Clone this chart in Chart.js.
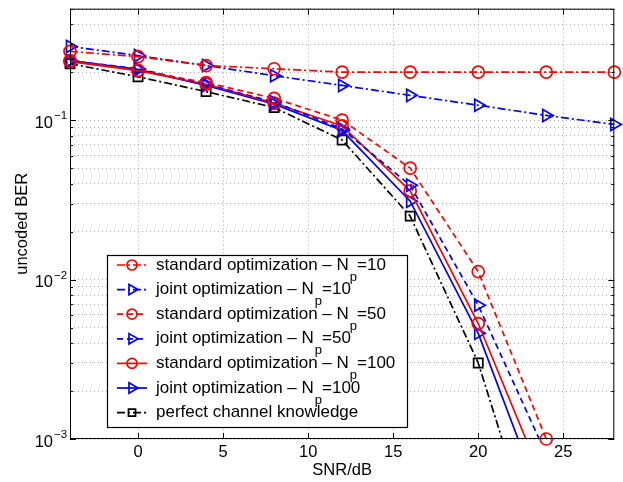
<!DOCTYPE html>
<html>
<head>
<meta charset="utf-8">
<script src="https://cdn.jsdelivr.net/npm/chart.js@4.4.0/dist/chart.umd.min.js"></script>
<style>
  html, body { margin: 0; padding: 0; background: #fff; }
</style>
</head>
<body>
<canvas id="ber" width="623" height="482"></canvas>
<script>
const FONT = '"Liberation Sans", Arial, Helvetica, sans-serif';

// SNR in dB
const snr = [-4, 0, 4, 8, 12, 16, 20, 24, 28];

// uncoded BER per curve
const stdNp10 = [0.27, 0.25, 0.22, 0.21, 0.2, 0.2, 0.2, 0.2, 0.2];
const jointNp10 = [0.29, 0.254, 0.22, 0.19, 0.165, 0.143, 0.124, 0.107, 0.094];
const stdNp50 = [0.236, 0.205, 0.172, 0.137, 0.1, 0.05, 0.0112, 0.001];
const jointNp50 = [0.236, 0.21, 0.168, 0.13, 0.088, 0.039, 0.0069, 0.0008];
const stdNp100 = [0.233, 0.204, 0.168, 0.128, 0.092, 0.036, 0.0053, 0.00049];
const jointNp100 = [0.236, 0.208, 0.165, 0.126, 0.086, 0.031, 0.0046, 0.00034];
const perfect = [0.226, 0.187, 0.151, 0.12, 0.075, 0.025, 0.003, 0.00013];

const xTicks = [0, 5, 10, 15, 20, 25];
const yMajor = [0.001, 0.01, 0.1];
const yLabels = ['\u22123', '\u22122', '\u22121'];

const legendText = [
    ['standard optimization \u2013 N', 'p', '=10'],
    ['joint optimization \u2013 N', 'p', '=10'],
    ['standard optimization \u2013 N', 'p', '=50'],
    ['joint optimization \u2013 N', 'p', '=50'],
    ['standard optimization \u2013 N', 'p', '=100'],
    ['joint optimization \u2013 N', 'p', '=100'],
    ['perfect channel knowledge', '', '']
];

// grid values for the log axis
const yGrid = [];
yMajor.forEach(d => {
    for (let k = 1; k <= 9; k++) {
        const v = +(k * d).toPrecision(3);
        if (v <= 0.5) yGrid.push(v);
    }
});

const dashDot = [8, 3, 2, 3];
const dashed = [6, 4];
const freeClip = { left: 12, top: 12, right: 12, bottom: 12 };
const lowClip = { left: 12, top: 12, right: 12, bottom: 0 };

function series(values, color, dash, style, radius, clip) {
    return {
        data: values.map((v, i) => ({ x: snr[i], y: v })),
        borderColor: color,
        borderWidth: 1.7,
        borderDash: dash,
        pointStyle: style,
        pointRotation: style === 'triangle' ? 90 : 0,
        pointRadius: radius,
        pointBorderColor: color,
        pointBorderWidth: 1.7,
        pointBackgroundColor: 'rgba(0,0,0,0)',
        clip: clip
    };
}

function marker(ctx, style, x, y, r) {
    ctx.beginPath();
    if (style === 'circle') {
        ctx.arc(x, y, r, 0, Math.PI * 2);
    } else if (style === 'triangle') {
        const a = Math.PI / 2;
        for (let k = 0; k < 3; k++) {
            const t = a + k * 2 * Math.PI / 3;
            const px = x + Math.sin(t) * r, py = y - Math.cos(t) * r;
            k === 0 ? ctx.moveTo(px, py) : ctx.lineTo(px, py);
        }
        ctx.closePath();
    } else {
        const s = r * Math.SQRT1_2;
        ctx.rect(x - s, y - s, 2 * s, 2 * s);
    }
    ctx.stroke();
}

const decorate = {
    id: 'decorate',
    afterDraw(chart) {
        const ctx = chart.ctx;
        const a = chart.chartArea;
        const xs = chart.scales.x, ys = chart.scales.y;
        ctx.save();
        // frame
        ctx.strokeStyle = '#000';
        ctx.lineWidth = 1;
        ctx.setLineDash([]);
        ctx.strokeRect(a.left + 0.5, a.top + 0.5, a.right - a.left - 1, a.bottom - a.top - 1);
        // inward tick marks
        ctx.beginPath();
        xTicks.forEach(v => {
            const px = Math.round(xs.getPixelForValue(v)) + 0.5;
            ctx.moveTo(px, a.bottom); ctx.lineTo(px, a.bottom - 6);
            ctx.moveTo(px, a.top); ctx.lineTo(px, a.top + 6);
        });
        yGrid.forEach(v => {
            const py = Math.round(ys.getPixelForValue(v)) + 0.5;
            const len = yMajor.includes(v) ? 6 : 3;
            ctx.moveTo(a.left, py); ctx.lineTo(a.left + len, py);
            ctx.moveTo(a.right, py); ctx.lineTo(a.right - len, py);
        });
        ctx.stroke();

        // y tick labels with superscripts
        ctx.fillStyle = '#000';
        ctx.textBaseline = 'middle';
        yMajor.forEach((v, i) => {
            const py = ys.getPixelForValue(v);
            ctx.font = '16.5px ' + FONT;
            ctx.textAlign = 'right';
            ctx.fillText('10', 53, py + 3);
            ctx.font = '11.5px ' + FONT;
            ctx.textAlign = 'left';
            ctx.fillText(yLabels[i], 54, py - 4);
        });

        // axis titles
        ctx.font = '16.5px ' + FONT;
        ctx.textAlign = 'center';
        ctx.fillText('SNR/dB', (a.left + a.right) / 2, 470);
        ctx.save();
        ctx.translate(22, (a.top + a.bottom) / 2);
        ctx.rotate(-Math.PI / 2);
        ctx.fillText('uncoded BER', 0, 0);
        ctx.restore();

        // legend
        const bx = 107, by = 255, bw = 300, bh = 172;
        ctx.fillStyle = '#fff';
        ctx.fillRect(bx, by, bw, bh);
        ctx.strokeStyle = '#000';
        ctx.lineWidth = 1.2;
        ctx.strokeRect(bx + 0.5, by + 0.5, bw, bh);
        chart.data.datasets.forEach((ds, i) => {
            const cy = by + 10 + i * 24.6;
            ctx.strokeStyle = ds.borderColor;
            ctx.lineWidth = 1.7;
            ctx.setLineDash(ds.borderDash);
            ctx.beginPath();
            ctx.moveTo(117, cy); ctx.lineTo(147, cy);
            ctx.stroke();
            ctx.setLineDash([]);
            const r = ds.pointStyle === 'circle' ? 5 : ds.pointStyle === 'triangle' ? 6 : 5;
            marker(ctx, ds.pointStyle, 132, cy, r);

            const [main, sub, tail] = legendText[i];
            ctx.fillStyle = '#000';
            ctx.textAlign = 'left';
            ctx.font = '17px ' + FONT;
            ctx.fillText(main, 156, cy);
            let tx = 156 + ctx.measureText(main).width;
            if (sub) {
                ctx.font = '13px ' + FONT;
                ctx.fillText(sub, tx + 1, cy + 12);
                tx += ctx.measureText(sub).width + 1;
                ctx.font = '17px ' + FONT;
                ctx.fillText(tail, tx, cy);
            }
        });
        ctx.restore();
    }
};

const gridStyle = { color: '#a8a8a8', lineWidth: 1, drawTicks: false };

new Chart(document.getElementById('ber').getContext('2d'), {
    type: 'line',
    data: {
        datasets: [
            series(stdNp10, '#ff0000', dashDot, 'circle', 6, freeClip),
            series(jointNp10, '#0000ff', dashDot, 'triangle', 7, freeClip),
            series(stdNp50, '#ff0000', dashed, 'circle', 6, freeClip),
            series(jointNp50, '#0000ff', dashed, 'triangle', 7, lowClip),
            series(stdNp100, '#ff0000', [], 'circle', 6, lowClip),
            series(jointNp100, '#0000ff', [], 'triangle', 7, lowClip),
            series(perfect, '#000000', dashDot, 'rect', 6.5, lowClip)
        ]
    },
    plugins: [decorate],
    options: {
        responsive: false,
        devicePixelRatio: 1,
        animation: false,
        layout: { padding: { top: 5, right: 6, left: 0, bottom: 0 } },
        plugins: { legend: { display: false }, tooltip: { enabled: false } },
        scales: {
            x: {
                type: 'linear',
                min: -4,
                max: 28,
                afterBuildTicks: s => { s.ticks = xTicks.map(v => ({ value: v })); },
                afterFit: s => { s.height = 43; },
                grid: gridStyle,
                border: { display: false, dash: [1, 3] },
                ticks: { color: '#000', padding: 4, font: { size: 16.5, family: FONT } }
            },
            y: {
                type: 'logarithmic',
                min: 0.001,
                max: 0.5,
                afterBuildTicks: s => { s.ticks = yGrid.map(v => ({ value: v })); },
                afterFit: s => { s.width = 70; },
                grid: gridStyle,
                border: { display: false, dash: [1, 3] },
                ticks: { display: false }
            }
        }
    }
});
</script>
</body>
</html>
